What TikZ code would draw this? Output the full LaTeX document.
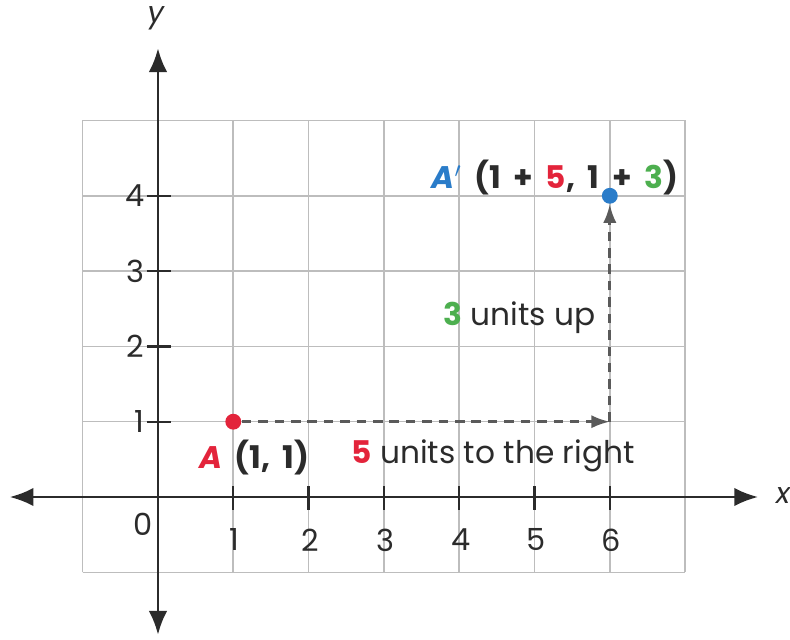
\documentclass[tikz,border=0pt]{standalone}
\usepackage{fontspec}
\setmainfont{Poppins}
\newfontfamily\ptfont[WordSpace=1.9]{Poppins}
\usetikzlibrary{arrows.meta}
\definecolor{myred}{HTML}{E3243B}
\definecolor{myblue}{HTML}{2A7CC9}
\definecolor{mygreen}{HTML}{4DAF4F}
\definecolor{gridgray}{HTML}{BDBDBD}
\definecolor{dashgray}{HTML}{5A5A5A}
\definecolor{axisgray}{HTML}{2B2B2B}
\tikzset{
  gridline/.style={gridgray, line width=0.6pt},
  axisline/.style={axisgray, line width=1.1pt, {Latex[length=9pt,width=7pt]}-{Latex[length=9pt,width=7pt]}},
  tickmark/.style={axisgray, line width=0.9pt},
  ticklabel/.style={font=\fontsize{11.5}{13}\selectfont, text=axisgray, inner sep=1pt},
  movearrow/.style={dashgray, line width=1pt, dash pattern=on 3.6pt off 2.6pt, -{Latex[length=7pt,width=5pt]}},
  ptlabel/.style={font=\ptfont\fontsize{11.8}{14}\selectfont\bfseries, text=axisgray, inner sep=0pt},
  steplabel/.style={font=\fontsize{11.8}{14}\selectfont, text=axisgray, inner sep=0pt},
  dot/.style={circle, fill=#1, inner sep=0pt, minimum size=6pt}
}
\begin{document}
\begin{tikzpicture}
\useasboundingbox (-2.098,-1.886) rectangle (8.393,6.600);
% grid
\draw[gridline] (-1,-1) grid (7,5);
% axes
\coordinate (xl) at (-1.97,0);
\coordinate (xr) at (7.97,0);
\coordinate (yb) at (0,-1.83);
\coordinate (yt) at (0,5.96);
\draw[axisline] (xl) -- (xr);
\draw[axisline] (yb) -- (yt);
\node[font=\fontsize{11}{13}\selectfont\itshape, text=axisgray] (xlab) at (8.3,0.02) {x};
\node[font=\fontsize{11}{13}\selectfont\itshape, text=axisgray] (ylab) at (-0.03,6.36) {y};
% ticks
\foreach \i in {1,...,6} {
  \draw[tickmark] (\i,-0.17) -- (\i,0.15);
  \node[ticklabel] (xt\i) at (\i+0.02,-0.57) {\i};
}
\foreach \j in {1,...,4} {
  \draw[tickmark] (-0.15,\j) -- (0.17,\j);
  \node[ticklabel, anchor=east] (yt\j) at (-0.14,\j) {\j};
}
\node[ticklabel] (zero) at (-0.2,-0.36) {0};
% points
\node[dot=myred] (A) at (1,1) {};
\node[dot=myblue] (Ap) at (6,4) {};
\coordinate (corner) at (6,1);
\draw[movearrow] (A) -- (corner);
\draw[movearrow] (corner) -- (Ap);
% labels
\node[ptlabel] (Alab) at (1.28,0.52) {\textcolor{myred}{\textit{A}} (1, 1)};
\node[steplabel] (right) at (4.45,0.55) {\textcolor{myred}{\textbf{5}} units to the right};
\node[steplabel] (up) at (4.8,2.38) {\textcolor{mygreen}{\textbf{3}} units up};
\node[ptlabel] (Aplab) at (5.27,4.24) {\textcolor{myblue}{\textit{A}$'$} (1 + \textcolor{myred}{5}, 1 + \textcolor{mygreen}{3})};
\end{tikzpicture}
\end{document}
